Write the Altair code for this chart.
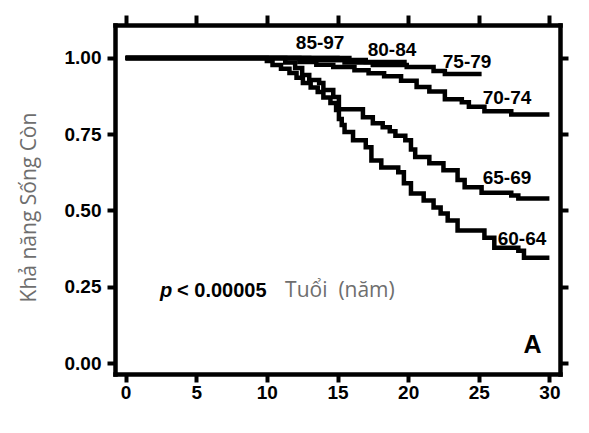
import altair as alt
import pandas as pd

# ---- survival curves (step functions): time of step, survival after step ----
groups = ["60-64", "65-69", "70-74", "75-79", "80-84", "85-97"]

t_60_64 = [0, 10.0, 10.4, 11.0, 11.6, 12.1, 12.55, 13.1, 13.6, 14.0, 14.5, 14.9, 15.1, 15.3,
           15.5, 16.1, 17.0, 17.4, 18.1, 19.3, 19.7, 20.2, 21.1, 21.8, 22.3, 22.8, 23.5, 25.4,
           26.1, 27.8, 28.2, 30.0]
s_60_64 = [1.0, 0.99, 0.977, 0.965, 0.951, 0.935, 0.918, 0.903, 0.888, 0.87, 0.852, 0.829, 0.80,
           0.78, 0.757, 0.73, 0.707, 0.664, 0.641, 0.625, 0.589, 0.556, 0.533, 0.51, 0.49, 0.467,
           0.434, 0.411, 0.378, 0.368, 0.345, 0.345]

t_65_69 = [0, 11.3, 12.0, 12.5, 13.0, 13.7, 14.0, 14.7, 15.1, 16.8, 17.5, 18.2, 18.7, 19.1,
           19.8, 20.2, 20.5, 21.5, 22.5, 23.5, 24.0, 25.2, 27.3, 27.8, 30.0]
s_65_69 = [1.0, 0.985, 0.967, 0.944, 0.928, 0.918, 0.895, 0.872, 0.832, 0.806, 0.786, 0.773,
           0.76, 0.745, 0.73, 0.70, 0.675, 0.655, 0.632, 0.60, 0.576, 0.558, 0.549, 0.539, 0.539]

t_70_74 = [0, 12.3, 13.5, 14.7, 16.2, 17.2, 18.3, 19.5, 20.6, 21.5, 22.6, 23.8, 24.3, 25.4,
           27.3, 30.0]
s_70_74 = [1.0, 0.987, 0.978, 0.970, 0.960, 0.950, 0.940, 0.925, 0.905, 0.890, 0.865, 0.855,
           0.840, 0.825, 0.815, 0.815]

t_75_79 = [0, 13.0, 15.5, 17.5, 19.9, 21.8, 22.6, 25.2]
s_75_79 = [1.0, 0.993, 0.985, 0.977, 0.970, 0.957, 0.947, 0.947]

t_80_84 = [0, 15.0, 17.0, 19.9]
s_80_84 = [1.0, 0.993, 0.987, 0.987]

t_85_97 = [0, 16.0]
s_85_97 = [1.0, 1.0]

# curve labels
label_text = ["85-97", "80-84", "75-79", "70-74", "65-69", "60-64"]
label_x = [13.77, 18.86, 24.17, 27.0, 27.0, 28.06]
label_y = [1.048, 1.026, 0.988, 0.870, 0.608, 0.405]

x_ticks = [0, 5, 10, 15, 20, 25, 30]
y_ticks = [0.0, 0.25, 0.5, 0.75, 1.0]

curves = {
    "60-64": (t_60_64, s_60_64),
    "65-69": (t_65_69, s_65_69),
    "70-74": (t_70_74, s_70_74),
    "75-79": (t_75_79, s_75_79),
    "80-84": (t_80_84, s_80_84),
    "85-97": (t_85_97, s_85_97),
}
rows = []
for g in groups:
    ts, ss = curves[g]
    for t, s in zip(ts, ss):
        rows.append({"group": g, "t": t, "s": s})
df = pd.DataFrame(rows)

labels_df = pd.DataFrame({"label": label_text, "x": label_x, "y": label_y})
p_df = pd.DataFrame({"label": ["p"], "x": [2.44], "y": [0.216]})
pv_df = pd.DataFrame({"label": ["< 0.00005"], "x": [3.64], "y": [0.216]})
age_df = pd.DataFrame({"label": ["Tuổi\u00a0\u00a0(năm)"], "x": [11.29], "y": [0.216]})
a_df = pd.DataFrame({"label": ["A"], "x": [28.8], "y": [0.033]})

xscale = alt.Scale(domain=[-0.75, 30.75], nice=False, zero=False)
yscale = alt.Scale(domain=[-0.036, 1.108], nice=False, zero=False)

lines = alt.Chart(df).mark_line(
    interpolate="step-after", strokeWidth=4.5, color="black"
).encode(
    x=alt.X("t:Q", scale=xscale, axis=alt.Axis(
        orient="bottom", values=x_ticks, title=None, format="d",
        tickSize=8, labelPadding=1)),
    y=alt.Y("s:Q", scale=yscale, axis=alt.Axis(
        orient="left", values=y_ticks, format=".2f", tickSize=8, labelPadding=6,
        title="Khả năng Sống Còn", titleFont="Open Sans", titleFontWeight="normal",
        titleFontSize=21, titleColor="#6e6e6e", titleX=-86, titleY=182,
        titleAngle=270, titleAlign="center", titleBaseline="middle")),
    detail="group:N",
)

frame = alt.Chart(df).mark_point(opacity=0).encode(
    x=alt.X("t:Q", scale=xscale, axis=alt.Axis(
        orient="top", values=x_ticks, labels=False, title=None, tickSize=10)),
    y=alt.Y("s:Q", scale=yscale, axis=alt.Axis(
        orient="right", values=y_ticks, labels=False, title=None, tickSize=8)),
)

def text_layer(data, **kw):
    return alt.Chart(data).mark_text(**kw).encode(
        x=alt.X("x:Q", scale=xscale, axis=None),
        y=alt.Y("y:Q", scale=yscale, axis=None),
        text="label:N",
    )

curve_labels = text_layer(labels_df, font="Liberation Sans", fontWeight="bold",
                          fontSize=19, color="black", align="center", baseline="middle")
p_text = text_layer(p_df, font="Liberation Sans", fontWeight="bold", fontStyle="italic",
                    fontSize=20, color="black", align="left", baseline="alphabetic")
pv_text = text_layer(pv_df, font="Liberation Sans", fontWeight="bold",
                     fontSize=20, color="black", align="left", baseline="alphabetic")
age_text = text_layer(age_df, font="Open Sans", fontSize=21, color="#6e6e6e",
                      align="left", baseline="alphabetic")
a_text = text_layer(a_df, font="Liberation Sans", fontWeight="bold", fontSize=25,
                    color="black", align="center", baseline="alphabetic")

chart = alt.layer(
    lines, frame, curve_labels, p_text, pv_text, age_text, a_text
).resolve_axis(
    x="independent", y="independent"
).properties(
    width=445, height=349,
    autosize=alt.AutoSizeParams(type="none"),
    padding={"left": 107, "top": 17, "right": 20, "bottom": 45},
    background="white",
).configure_view(
    stroke=None
).configure_axis(
    grid=False,
    labelFont="Liberation Sans", labelFontWeight="bold", labelFontSize=19,
    labelColor="black",
    domainColor="black", domainWidth=4.5, domainCap="square",
    tickColor="black", tickWidth=4,
)

chart.save("out.html", embed_options={"renderer": "svg", "actions": False})
